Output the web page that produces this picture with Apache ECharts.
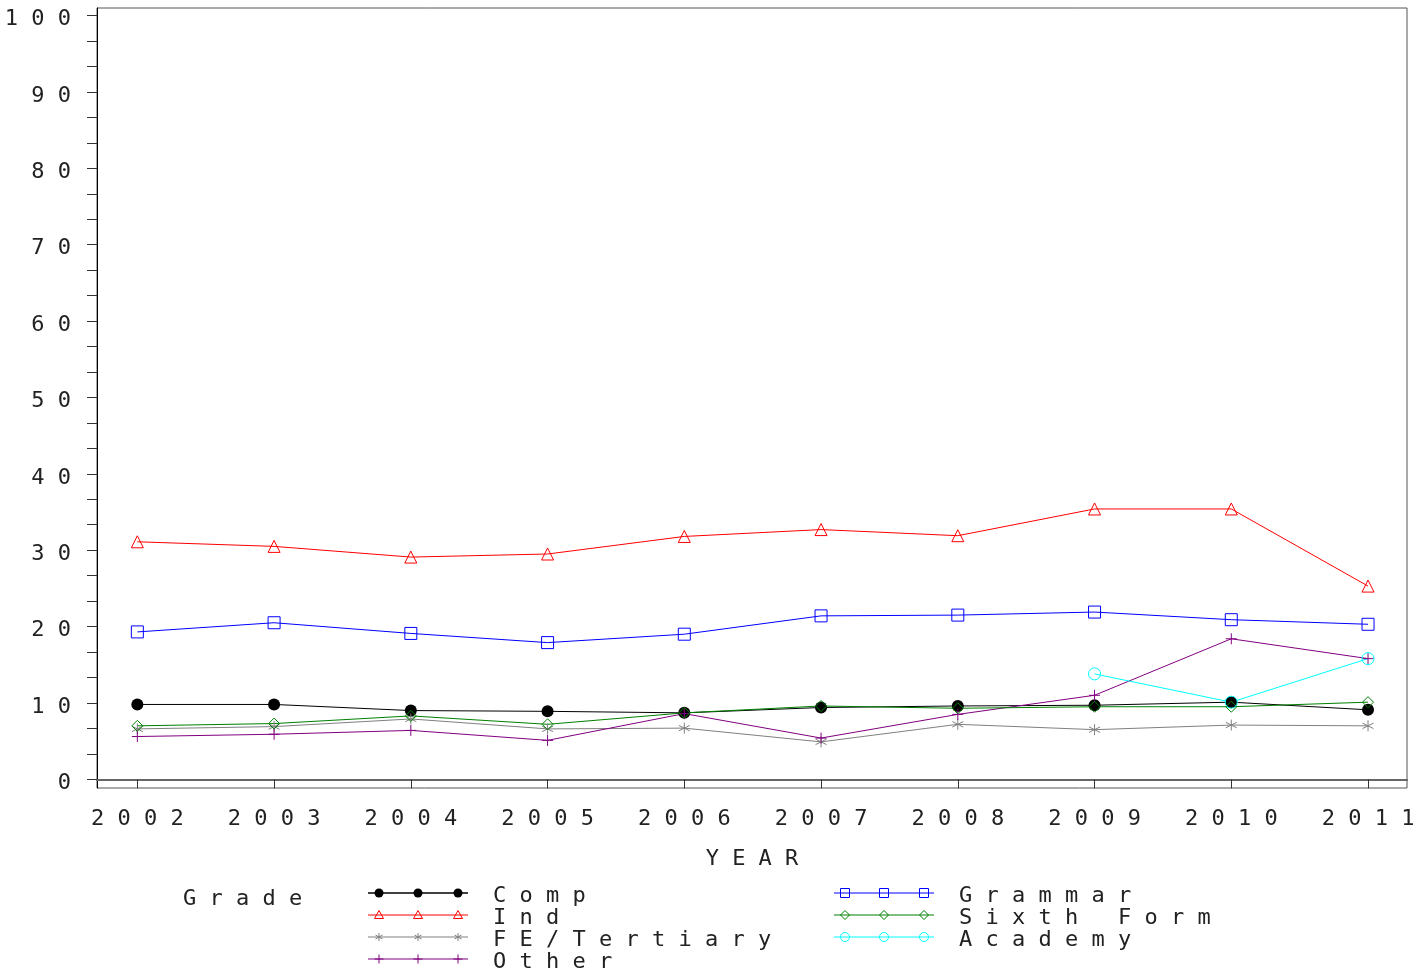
<!DOCTYPE html>
<html>
<head>
<meta charset="utf-8">
<script src="https://cdn.jsdelivr.net/npm/echarts@6/dist/echarts.min.js"></script>
<style>
html,body{margin:0;padding:0;background:#fff;}
#chart{width:1427px;height:971px;}
</style>
</head>
<body>
<div id="chart"></div>
<script>
const years = [2002, 2003, 2004, 2005, 2006, 2007, 2008, 2009, 2010, 2011];
const comp = [9.8, 9.8, 9.0, 8.9, 8.7, 9.4, 9.6, 9.7, 10.1, 9.1];
const ind = [31.1, 30.5, 29.1, 29.5, 31.8, 32.7, 31.9, 35.4, 35.4, 25.3];
const feTertiary = [6.6, 6.9, 7.9, 6.6, 6.7, 4.9, 7.2, 6.5, 7.1, 7.0];
const other = [5.6, 5.9, 6.4, 5.1, 8.6, 5.4, 8.5, 11.0, 18.4, 15.8];
const grammar = [19.3, 20.5, 19.1, 17.9, 19.0, 21.4, 21.5, 21.9, 20.9, 20.3];
const sixthForm = [7.0, 7.3, 8.3, 7.2, 8.7, 9.6, 9.3, 9.5, 9.5, 10.1];
const academy = [null, null, null, null, null, null, null, 13.8, 10.1, 15.8];
const yTickLabels = [0, 10, 20, 30, 40, 50, 60, 70, 80, 90, 100];
const xTitle = 'YEAR';
const legendTitle = 'Grade';

const FONT = '"DejaVu Sans Mono", monospace';
const TXT = '#222';
const spaced = s => String(s).split('').join(' ');

const ASTER = 'path://M5,0L5,10M0.67,2.5L9.33,7.5M0.67,7.5L9.33,2.5';
const PLUS = 'path://M5,0L5,10M0,5L10,5';

const seriesDefs = [
  {name: 'Comp', data: comp, color: '#000000', kind: 'dot', symbol: 'circle', size: 12},
  {name: 'Ind', data: ind, color: '#ff0000', kind: 'tri', symbol: 'triangle', size: 12},
  {name: 'FE/Tertiary', data: feTertiary, color: '#808080', kind: 'aster', symbol: ASTER, size: 11},
  {name: 'Other', data: other, color: '#800080', kind: 'plus', symbol: PLUS, size: 11},
  {name: 'Grammar', data: grammar, color: '#0000ff', kind: 'rect', symbol: 'rect', size: 12},
  {name: 'Sixth Form', data: sixthForm, color: '#008000', kind: 'diamond', symbol: 'diamond', size: 11},
  {name: 'Academy', data: academy, color: '#00ffff', kind: 'circle', symbol: 'circle', size: 12}
];

const series = seriesDefs.map(d => ({
  name: d.name,
  type: 'line',
  data: years.map((y, i) => [y, d.data[i]]),
  symbol: d.symbol,
  symbolSize: d.size,
  showAllSymbol: true,
  connectNulls: false,
  lineStyle: {color: d.color, width: 1},
  itemStyle: d.kind === 'dot'
    ? {color: d.color, borderColor: d.color, borderWidth: 0}
    : {color: 'rgba(0,0,0,0)', borderColor: d.color, borderWidth: 1},
  emphasis: {disabled: true},
  animation: false,
  z: 2
}));

// legend drawn as graphic
function marker(kind, cx, cy, c) {
  const s = {stroke: c, fill: 'none', lineWidth: 1};
  switch (kind) {
    case 'dot': return [{type: 'circle', shape: {cx, cy, r: 4.5}, style: {fill: c}}];
    case 'tri': return [{type: 'polygon', shape: {points: [[cx, cy - 4.5], [cx + 4.5, cy + 3.5], [cx - 4.5, cy + 3.5]]}, style: s}];
    case 'aster': return [
      {type: 'line', shape: {x1: cx, y1: cy - 4, x2: cx, y2: cy + 4}, style: s},
      {type: 'line', shape: {x1: cx - 3.5, y1: cy - 2, x2: cx + 3.5, y2: cy + 2}, style: s},
      {type: 'line', shape: {x1: cx - 3.5, y1: cy + 2, x2: cx + 3.5, y2: cy - 2}, style: s}];
    case 'plus': return [
      {type: 'line', shape: {x1: cx, y1: cy - 4.5, x2: cx, y2: cy + 4.5}, style: s},
      {type: 'line', shape: {x1: cx - 4.5, y1: cy, x2: cx + 4.5, y2: cy}, style: s}];
    case 'rect': return [{type: 'rect', shape: {x: cx - 4.5, y: cy - 4.5, width: 9, height: 9}, style: s}];
    case 'diamond': return [{type: 'polygon', shape: {points: [[cx, cy - 4.5], [cx + 4.5, cy], [cx, cy + 4.5], [cx - 4.5, cy]]}, style: s}];
    case 'circle': return [{type: 'circle', shape: {cx, cy, r: 4.5}, style: s}];
  }
  return [];
}

const graphics = [];
graphics.push({type: 'text', left: 183, top: 888, style: {text: spaced(legendTitle), font: '22px ' + FONT, fill: TXT}});
const rowsY = [893, 915, 937, 959];
seriesDefs.forEach((d, i) => {
  const col = i < 4 ? 0 : 1;
  const row = i < 4 ? i : i - 4;
  const x0 = col === 0 ? 368 : 834;
  const tx = col === 0 ? 493 : 959;
  const y = rowsY[row];
  graphics.push({type: 'line', shape: {x1: x0, y1: y, x2: x0 + 100, y2: y}, style: {stroke: d.color, lineWidth: d.kind === 'dot' ? 1.5 : 1}});
  [x0 + 11, x0 + 50, x0 + 90].forEach(mx => marker(d.kind, mx, y, d.color).forEach(g => graphics.push(g)));
  graphics.push({type: 'text', left: tx, top: y - 8, style: {text: spaced(d.name), font: '22px ' + FONT, fill: TXT}});
});

const yTicks = [];
for (let k = 0; k <= 30; k++) yTicks.push(k * 10 / 3);

const option = {
  backgroundColor: '#fff',
  animation: false,
  grid: {left: 97, top: 8, right: 20, bottom: 183, show: true, borderColor: '#555', borderWidth: 1, containLabel: false},
  xAxis: {
    type: 'value',
    min: 2001.705,
    max: 2011.285,
    name: spaced(xTitle),
    nameLocation: 'middle',
    nameGap: 60,
    nameTextStyle: {fontFamily: FONT, fontSize: 22, color: TXT},
    axisLine: {show: true, lineStyle: {color: '#666', width: 2}},
    axisTick: {show: true, length: 9, lineStyle: {color: '#333'}, customValues: years},
    axisLabel: {customValues: years, formatter: v => spaced(v), fontFamily: FONT, fontSize: 22, color: TXT, margin: 20},
    splitLine: {show: false}
  },
  yAxis: {
    type: 'value',
    min: -1.14,
    max: 101.0,
    axisLine: {show: true, lineStyle: {color: '#000', width: 1}},
    axisTick: {show: true, length: 10, lineStyle: {color: '#333'}, customValues: yTicks},
    axisLabel: {customValues: yTickLabels, formatter: v => spaced(v), fontFamily: FONT, fontSize: 22, color: TXT, margin: 26, verticalAlign: 'top', lineHeight: 8},
    splitLine: {show: false}
  },
  graphic: graphics,
  series: series
};

const chart = echarts.init(document.getElementById('chart'), null, {renderer: 'canvas'});
chart.setOption(option);
</script>
</body>
</html>
